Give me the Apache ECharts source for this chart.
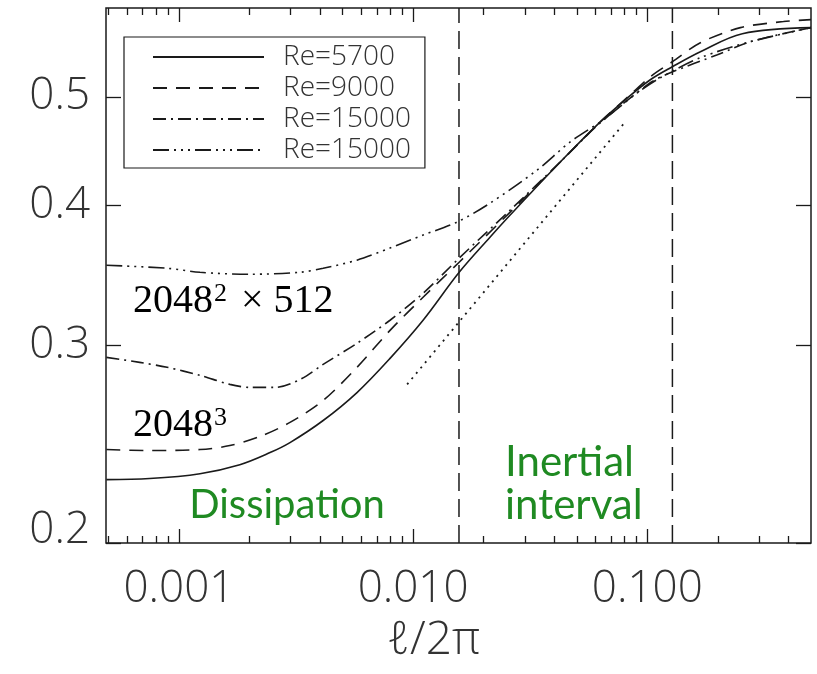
<!DOCTYPE html>
<html><head><meta charset="utf-8">
<script src="https://cdn.jsdelivr.net/npm/echarts@6/dist/echarts.min.js"></script>
<style>html,body{margin:0;padding:0;background:#fff}#c{width:817px;height:674px}</style>
</head><body><div id="c"></div>
<script>
// ---- axis ranges & ticks ----
const X_MIN = 1 / 2048, X_MAX = 0.5;
const Y_MIN = 0.2, Y_MAX = 0.6;
const xMajorTicks = [0.001, 0.01, 0.1];
const xTickLabels = ['0.001', '0.010', '0.100'];
const xMinorTicks = [0.0005, 0.0006, 0.0007, 0.0008, 0.0009,
  0.002, 0.003, 0.004, 0.005, 0.006, 0.007, 0.008, 0.009,
  0.02, 0.03, 0.04, 0.05, 0.06, 0.07, 0.08, 0.09,
  0.2, 0.3, 0.4];
const yTicks = [0.2, 0.3, 0.4, 0.5];
const yTickLabels = ['0.2', '0.3', '0.4', '0.5'];

// ---- series ----
const re5700X = [0.00049, 0.00075, 0.00123, 0.00182, 0.00245, 0.00298, 0.00413, 0.00576, 0.00797, 0.01103, 0.01573, 0.02134, 0.02597, 0.04249, 0.06299, 0.08052, 0.1030, 0.1279, 0.1685, 0.2546, 0.5];
const re5700Y = [0.2278, 0.2283, 0.2306, 0.2349, 0.2408, 0.2458, 0.2572, 0.2724, 0.2922, 0.3160, 0.3487, 0.3749, 0.3922, 0.4373, 0.4749, 0.4969, 0.5178, 0.5318, 0.5485, 0.5692, 0.5763];

const re9000X = [0.00049, 0.00075, 0.00123, 0.00165, 0.00222, 0.00298, 0.00413, 0.00576, 0.00797, 0.01103, 0.01573, 0.02597, 0.04249, 0.06299, 0.08458, 0.1030, 0.1279, 0.1685, 0.2497, 0.3813, 0.5];
const re9000Y = [0.2423, 0.2418, 0.2423, 0.2443, 0.2489, 0.2562, 0.2680, 0.2869, 0.3095, 0.3313, 0.3560, 0.3946, 0.4373, 0.4749, 0.5021, 0.5210, 0.5373, 0.5587, 0.5763, 0.5835, 0.5859];

const re15000aX = [0.00049, 0.00068, 0.00089, 0.00123, 0.00165, 0.00201, 0.00257, 0.00329, 0.00413, 0.00576, 0.00797, 0.01103, 0.01573, 0.02597, 0.04249, 0.06299, 0.1030, 0.1254, 0.1992, 0.2755, 0.5];
const re15000aY = [0.2928, 0.2898, 0.2869, 0.2822, 0.2770, 0.2753, 0.2753, 0.2798, 0.2886, 0.3014, 0.3160, 0.3340, 0.3590, 0.3962, 0.4373, 0.4740, 0.5146, 0.5253, 0.5451, 0.5599, 0.5763];

const re15000bX = [0.00049, 0.00089, 0.00123, 0.00201, 0.00329, 0.00413, 0.00576, 0.00797, 0.01103, 0.01542, 0.02134, 0.03388, 0.04688, 0.06487, 0.09063, 0.1137, 0.1685, 0.2755, 0.5];
const re15000bY = [0.3538, 0.3516, 0.3487, 0.3473, 0.3487, 0.3516, 0.3575, 0.3665, 0.3764, 0.3866, 0.4020, 0.4302, 0.4558, 0.4769, 0.5041, 0.5199, 0.5418, 0.5599, 0.5763];

const slopeX = [0.00943, 0.08052];
const slopeY = [0.2770, 0.4749];

const rangeBounds = [0.0157, 0.128];

const seriesNames = ['Re=5700', 'Re=9000', 'Re=15000 (2048³)', 'Re=15000 (2048²×512)'];

// ---- helpers ----
const zip = (xs, ys) => xs.map((x, i) => [x, ys[i]]);
const near = (a, b) => Math.abs(Math.log10(a) - Math.log10(b)) < 1e-6;
const AX_FONT = "'Open Sans', 'DejaVu Sans', sans-serif";
const INK = '#1a1a1a';
const GREEN = '#1f8a22';

const xBase = { type: 'log', logBase: 10, min: X_MIN, max: X_MAX, splitLine: { show: false }, axisLine: { show: false } };
const yBase = { type: 'log', logBase: 10, min: Y_MIN, max: Y_MAX, splitLine: { show: false }, axisLine: { show: false } };
const tickStyle = { color: INK, width: 1.3 };

const boundSeries = rangeBounds.map((v, i) => ({
  name: 'bound' + i, type: 'line', symbol: 'none', silent: true,
  data: [[v, Y_MIN], [v, Y_MAX]],
  lineStyle: { color: INK, width: 1.5, type: [18, 8] }
}));

const chart = echarts.init(document.getElementById('c'), null, { renderer: 'canvas' });
chart.setOption({
  animation: false,
  backgroundColor: '#fff',
  grid: { left: 106, right: 6, top: 8, bottom: 131, show: true, borderColor: INK, borderWidth: 1.5, backgroundColor: 'transparent' },
  xAxis: [
    Object.assign({}, xBase, {
      position: 'bottom',
      axisTick: { show: true, inside: true, length: 14, customValues: xMajorTicks, lineStyle: tickStyle },
      axisLabel: {
        customValues: xMajorTicks, margin: 24, fontSize: 44, fontFamily: AX_FONT, fontWeight: 300, color: '#333',
        formatter: v => { const i = xMajorTicks.findIndex(t => near(t, v)); return i >= 0 ? xTickLabels[i] : ''; }
      },
      name: 'ℓ/2π', nameLocation: 'middle', nameGap: 75,
      nameTextStyle: { fontSize: 46, fontFamily: AX_FONT, fontWeight: 300, color: '#333', padding: [0, 50, 0, 0] }
    }),
    Object.assign({}, xBase, {
      position: 'bottom',
      axisTick: { show: true, inside: true, length: 7, customValues: xMinorTicks, lineStyle: tickStyle },
      axisLabel: { show: false }
    }),
    Object.assign({}, xBase, {
      position: 'top',
      axisTick: { show: true, inside: true, length: 14, customValues: xMajorTicks, lineStyle: tickStyle },
      axisLabel: { show: false }
    }),
    Object.assign({}, xBase, {
      position: 'top',
      axisTick: { show: true, inside: true, length: 7, customValues: xMinorTicks, lineStyle: tickStyle },
      axisLabel: { show: false }
    })
  ],
  yAxis: [
    Object.assign({}, yBase, {
      position: 'left',
      axisTick: { show: true, inside: true, length: 15, customValues: yTicks, lineStyle: tickStyle },
      axisLabel: {
        customValues: yTicks, margin: 16, fontSize: 44, fontFamily: AX_FONT, fontWeight: 300, color: '#333',
        formatter: v => {
          const i = yTicks.findIndex(t => near(t, v));
          if (i < 0) return '';
          return i === 0 ? '{lo|' + yTickLabels[i] + '}' : yTickLabels[i];
        },
        rich: { lo: { fontSize: 44, fontFamily: AX_FONT, fontWeight: 300, color: '#333', padding: [0, 0, 26, 0] } }
      }
    }),
    Object.assign({}, yBase, {
      position: 'right',
      axisTick: { show: true, inside: true, length: 15, customValues: yTicks, lineStyle: tickStyle },
      axisLabel: { show: false }
    })
  ],
  legend: {
    data: seriesNames,
    selectedMode: false,
    orient: 'vertical',
    left: 124, top: 37,
    padding: [6, 14, 4, 28],
    itemGap: 3, itemWidth: 111, itemHeight: 14,
    borderColor: INK, borderWidth: 1.2, borderRadius: 0, backgroundColor: '#fff',
    itemStyle: { color: 'rgba(0,0,0,0)', borderColor: 'rgba(0,0,0,0)', borderWidth: 0, opacity: 0 },
    textStyle: { fontSize: 28, fontFamily: AX_FONT, fontWeight: 300, color: '#333', padding: [0, 0, 0, 14] },
    formatter: name => name.replace(/ \(.*\)$/, '')
  },
  series: [
    { name: seriesNames[0], type: 'line', data: zip(re5700X, re5700Y), symbol: 'none', smooth: 0.35,
      lineStyle: { color: INK, width: 1.6, type: 'solid' } },
    { name: seriesNames[1], type: 'line', data: zip(re9000X, re9000Y), symbol: 'none', smooth: 0.3,
      lineStyle: { color: INK, width: 1.6, type: [14, 9] } },
    { name: seriesNames[2], type: 'line', data: zip(re15000aX, re15000aY), symbol: 'none', smooth: 0.3,
      lineStyle: { color: INK, width: 1.6, type: [13, 5, 2, 5] } },
    { name: seriesNames[3], type: 'line', data: zip(re15000bX, re15000bY), symbol: 'none', smooth: 0.3,
      lineStyle: { color: INK, width: 1.6, type: [16, 5, 2, 5, 2, 5, 2, 5] } },
    { name: 'slope', type: 'line', data: zip(slopeX, slopeY), symbol: 'none', silent: true,
      lineStyle: { color: INK, width: 1.8, type: [2, 5] } }
  ].concat(boundSeries),
  graphic: [
    { type: 'text', left: 133, top: 281, z: 100,
      style: { text: '2048{s|2} × 512', fill: '#000', font: "40px 'Liberation Serif', serif",
        rich: { s: { fontSize: 26, fontFamily: "'Liberation Serif', serif", fill: '#000', verticalAlign: 'top', padding: [0, 4, 0, 1] } } } },
    { type: 'text', left: 133, top: 405, z: 100,
      style: { text: '2048{s|3}', fill: '#000', font: "40px 'Liberation Serif', serif",
        rich: { s: { fontSize: 26, fontFamily: "'Liberation Serif', serif", fill: '#000', verticalAlign: 'top', padding: [0, 0, 0, 1] } } } },
    { type: 'text', x: 287, y: 505, z: 100,
      style: { text: 'Dissipation', fill: GREEN, font: "40px Lato, 'Open Sans', sans-serif", align: 'center', verticalAlign: 'middle' } },
    { type: 'text', x: 505, y: 462, z: 100,
      style: { text: 'Inertial', fill: GREEN, font: "42px Lato, 'Open Sans', sans-serif", align: 'left', verticalAlign: 'middle' } },
    { type: 'text', x: 505, y: 505, z: 100,
      style: { text: 'interval', fill: GREEN, font: "42px Lato, 'Open Sans', sans-serif", align: 'left', verticalAlign: 'middle' } }
  ]
});
</script>
</body></html>
